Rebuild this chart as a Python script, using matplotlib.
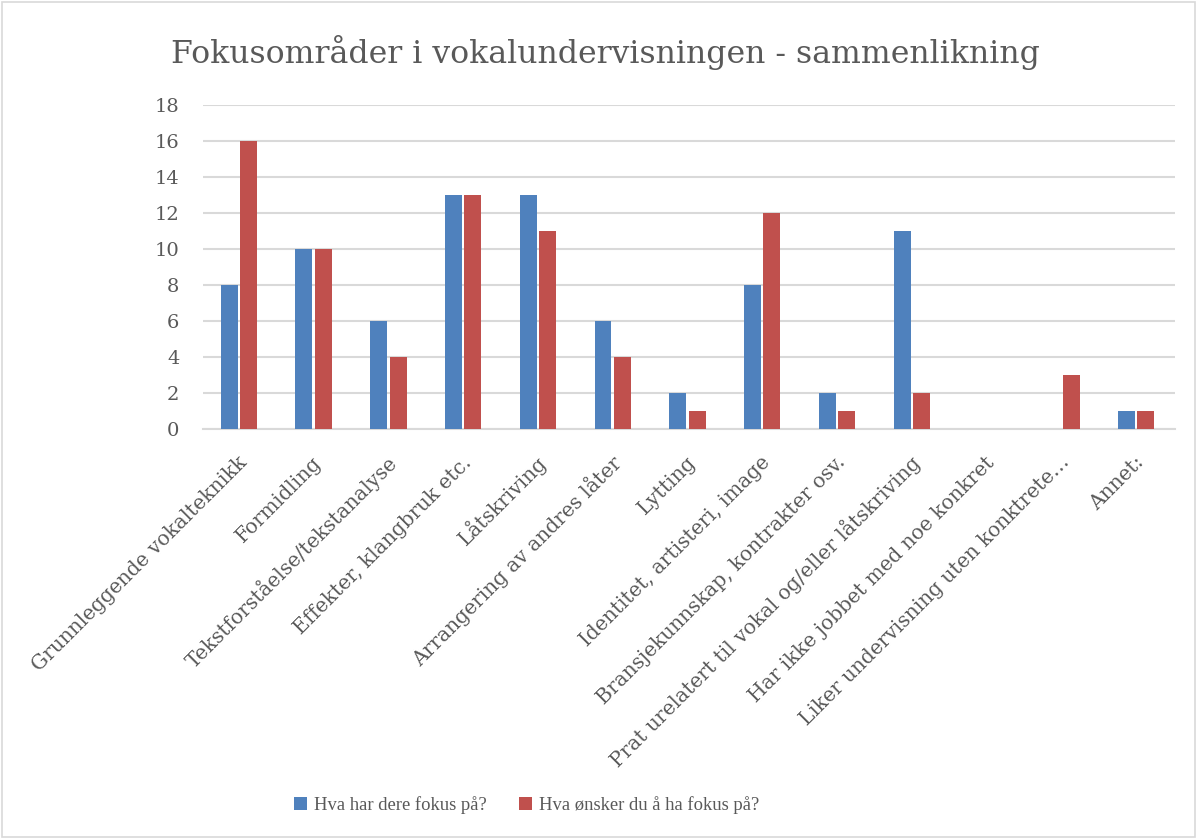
import matplotlib
matplotlib.use("Agg")
import matplotlib.pyplot as plt
import numpy as np
from matplotlib.patches import Rectangle

categories = [
    "Grunnleggende vokalteknikk",
    "Formidling",
    "Tekstforståelse/tekstanalyse",
    "Effekter, klangbruk etc.",
    "Låtskriving",
    "Arrangering av andres låter",
    "Lytting",
    "Identitet, artisteri, image",
    "Bransjekunnskap, kontrakter osv.",
    "Prat urelatert til vokal og/eller låtskriving",
    "Har ikke jobbet med noe konkret",
    "Liker undervisning uten konktrete…",
    "Annet:",
]
fokus_naa = [8, 10, 6, 13, 13, 6, 2, 8, 2, 11, 0, 0, 1]
fokus_onske = [16, 10, 4, 13, 11, 4, 1, 12, 1, 2, 0, 3, 1]
series_names = ["Hva har dere fokus på?", "Hva ønsker du å ha fokus på?"]
yticks = [0, 2, 4, 6, 8, 10, 12, 14, 16, 18]

plt.rcParams['font.family'] = ['DejaVu Serif', 'Liberation Serif']
txt = '#595959'

fig = plt.figure(figsize=(11.97, 8.39), dpi=100)
ax = fig.add_axes([0.1696, 0.4887, 0.8120, 0.3862])

x = np.arange(len(categories))
w = 0.227
ax.bar(x - 0.150, fokus_naa, width=w, color='#4F81BD', label=series_names[0], zorder=3)
ax.bar(x + 0.110, fokus_onske, width=w, color='#C0504D', label=series_names[1], zorder=3)

ax.set_xlim(-0.5, len(categories) - 0.5)
ax.set_ylim(0, 18)
ax.set_yticks(yticks)
ax.set_yticklabels([str(v) for v in yticks], fontsize=14, color=txt)
ax.yaxis.grid(True, color='#D9D9D9', linewidth=1.5, zorder=0)
ax.set_axisbelow(True)
for s in ['top', 'right', 'left']:
    ax.spines[s].set_visible(False)
ax.spines['bottom'].set_color('#D9D9D9')
ax.spines['bottom'].set_linewidth(1.5)
ax.tick_params(axis='both', length=0)
ax.tick_params(axis='y', pad=17)
ax.set_xticks(x + 0.05)
ax.set_xticklabels(categories, rotation=45, ha='right', va='center',
                   rotation_mode='anchor', fontsize=14.5, color=txt)
ax.tick_params(axis='x', pad=22)

fig.text(0.506, 0.938, "Fokusområder i vokalundervisningen - sammenlikning",
         ha='center', va='center', fontsize=22.7, color=txt)

leg = fig.legend(loc='center', bbox_to_anchor=(0.44, 0.0405), ncol=2, frameon=False,
                 prop={'family': 'Liberation Serif', 'size': 13.4},
                 handlelength=0.7, handleheight=0.7, columnspacing=1.7,
                 handletextpad=0.4)
for t in leg.get_texts():
    t.set_color(txt)

fig.patches.append(Rectangle((0.002, 0.002), 0.996, 0.996, transform=fig.transFigure,
                             fill=False, edgecolor='#D9D9D9', linewidth=1.2))

fig.savefig("out.png", dpi=100)
